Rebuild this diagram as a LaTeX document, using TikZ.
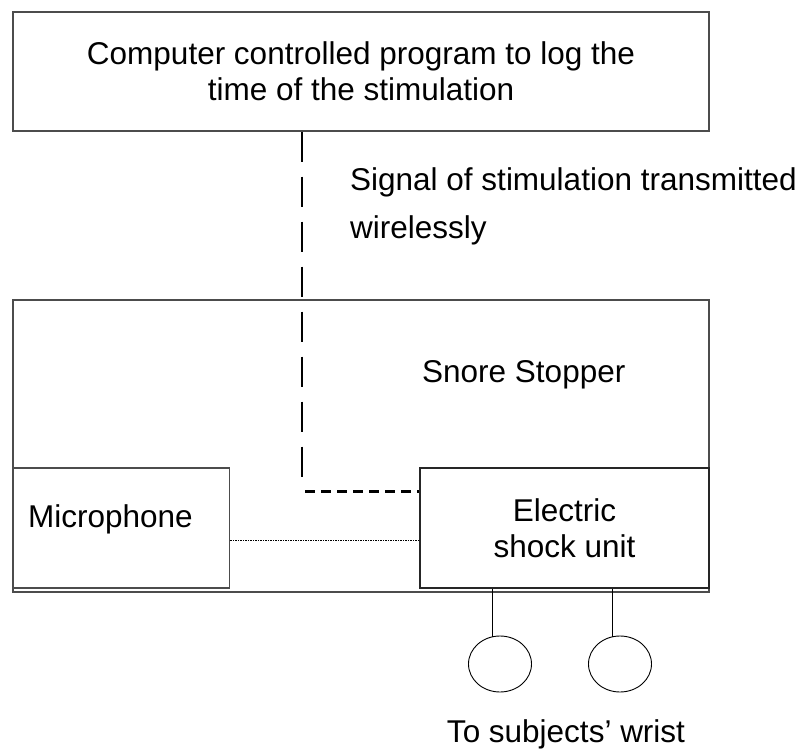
\documentclass[tikz,border=0pt]{standalone}
\usepackage{fontspec}
\setmainfont{Liberation Sans}
\usetikzlibrary{shapes.geometric}

\tikzset{
	box/.style={draw=black!70, line width=1.1pt, rectangle, inner sep=0pt, align=center},
	pad/.style={draw=black, line width=0.9pt, ellipse, inner sep=0pt, minimum width=63pt, minimum height=56pt},
	txt/.style={inner sep=0pt}
}

\begin{document}
\begin{tikzpicture}[x=1pt, y=-1pt, font=\fontsize{31.5}{36}\selectfont]
	\useasboundingbox (0,0) rectangle (806,749);
	
	% Boxes {pc, ss, mic, esu}
	\node [box, minimum width=696pt, minimum height=119pt] 	(pc)  at (361,71.5) 	{Computer controlled program to log the\\time of the stimulation};
	\node [box, minimum width=696pt, minimum height=292pt] 	(ss)  at (361,446)  	{};
	\node [box, minimum width=217pt, minimum height=120pt] 	(mic) at (121.3,528) 	{};
	\node [box, draw=black!85, minimum width=289pt, minimum height=120pt] 	(esu) at (564.5,528) 	{Electric\\shock unit};
	
	% Wrist pads {w1, w2}
	\node [pad] 	(w1)  at (500,664) 	{};
	\node [pad] 	(w2)  at (620,664) 	{};
	
	% Texts
	\node [txt, anchor=base west] 	(sig1) at (350,190) 	{Signal of stimulation transmitted};
	\node [txt, anchor=base west] 	(sig2) at (350,238) 	{wirelessly};
	\node [txt, anchor=base west] 	(snore) at (422,382) 	{Snore Stopper};
	\node [txt, anchor=base west] 	(mict) at (28,527) 	{Microphone};
	\node [txt, anchor=base] 		(wrist) at (566,742) 	{To subjects’ wrist};
	
	% Paths
	\coordinate (bend) at (302,491);
	\draw [line width=1.5pt, dash pattern=on 30pt off 15pt] 	(pc.south -| bend) -- ([yshift=9pt]bend);
	\draw [line width=3pt, dash pattern=on 10pt off 6pt] 	([xshift=3pt]bend) -- (bend -| esu.west);
	\draw [line width=0.8pt, dash pattern=on 1.5pt off 1pt] 	([yshift=-12pt]mic.east) -- ([yshift=-12pt]mic.east -| esu.west);
	
	\draw [line width=0.9pt] 	(esu.south -| 492,0) -- ([xshift=-8pt,yshift=-1pt]w1.north);
	\draw [line width=0.9pt] 	(esu.south -| 612,0) -- ([xshift=-8pt,yshift=-1pt]w2.north);
	
\end{tikzpicture}
\end{document}
